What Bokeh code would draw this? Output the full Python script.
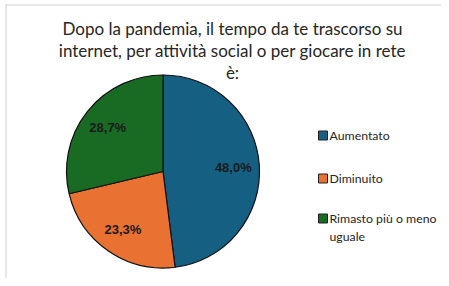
import math
from bokeh.plotting import figure
from bokeh.models import Range1d, ColumnDataSource
from bokeh.core.properties import value
from bokeh.embed import file_html
from bokeh.resources import INLINE

# ---- data ----
title_lines = ["Dopo la pandemia, il tempo da te trascorso su",
               "internet, per attività social o per giocare in rete",
               "è:"]
categories = ["Aumentato", "Diminuito", "Rimasto più o meno uguale"]
legend_lines = ["Aumentato", "Diminuito", "Rimasto più o meno\nuguale"]
values = [48.0, 23.3, 28.7]
labels = ["48,0%", "23,3%", "28,7%"]
colors = ["#156082", "#E97132", "#196B24"]

# ---- layout (pixel coordinates: x = px, y = -py) ----
W, H = 441, 278
cx, cy, r = 162.5, -171.0, 96.5

p = figure(width=W, height=H, x_range=Range1d(0, W), y_range=Range1d(-H, 0),
           x_axis_type=None, y_axis_type=None, toolbar_location=None,
           output_backend="svg", min_border=0)
p.grid.visible = False
p.outline_line_color = None
p.background_fill_color = "white"

# border (top and left)
p.segment(x0=[5, 5.5], y0=[-4.5, -4], x1=[W, 5.5], y1=[-4.5, -H],
          line_color="#d0d0d0", line_width=1)

total = sum(values)
starts, ends, lx, ly = [], [], [], []
cum = 0.0
for v in values:
    a0 = math.pi / 2 - 2 * math.pi * cum / total
    a1 = math.pi / 2 - 2 * math.pi * (cum + v) / total
    mid = (a0 + a1) / 2
    starts.append(a0)
    ends.append(a1)
    lx.append(cx + 0.73 * r * math.cos(mid))
    ly.append(cy + 0.73 * r * math.sin(mid))
    cum += v

src = ColumnDataSource(dict(start=starts, end=ends, color=colors, cat=categories,
                            lx=lx, ly=ly, label=labels))
p.wedge(x=cx, y=cy, radius=r, start_angle="start", end_angle="end", direction="clock",
        fill_color="color", line_color="#111111", line_width=1.2, source=src)
p.text(x="lx", y="ly", text="label", source=src, text_align="center", text_baseline="middle",
       text_font=value("Liberation Sans"), text_font_style="bold", text_font_size="13px",
       text_color="#1a1a1a")

# title
p.text(x=[232] * 3, y=[-28, -50, -72], text=title_lines, text_align="center",
       text_baseline="middle", text_font=value("Lato"), text_font_size="17px",
       text_color="#262626")

# legend
leg_y = [-135, -178, -218]
src2 = ColumnDataSource(dict(y=leg_y, color=colors, t=legend_lines))
p.rect(x=322.5, y="y", width=9, height=9, fill_color="color", line_color="#222222",
       line_width=1, source=src2)
p.text(x=329, y="y", text="t", source=src2, text_align="left", text_baseline="top",
       y_offset=-8, text_font=value("Lato"), text_font_size="12.3px", text_color="#262626",
       text_line_height=1.2)

open("out.html", "w").write(file_html(p, INLINE))
